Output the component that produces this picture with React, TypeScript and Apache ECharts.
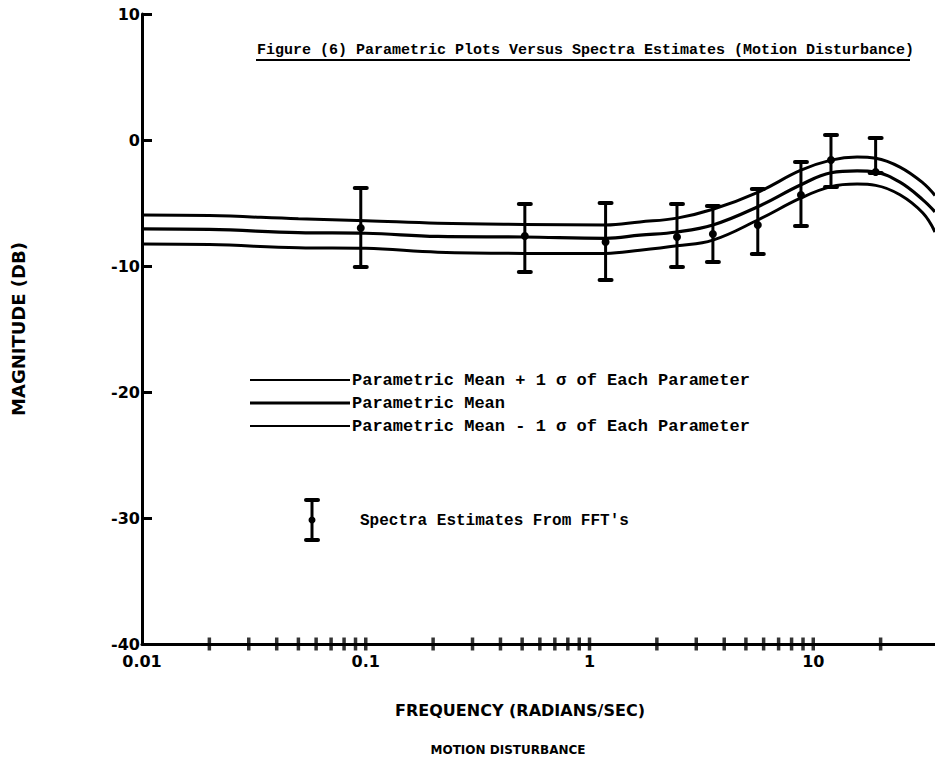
import React, { useEffect, useRef } from "react";
import * as echarts from "echarts";

// Parametric curves (frequency in rad/s, magnitude in dB)
const curveFreq = [0.01, 0.02, 0.05, 0.1, 0.21, 0.51, 1.18, 1.68, 2.46, 3.56, 5.65, 8.81, 12.0, 15.7, 19.0, 24.4, 30.9, 35];
const meanPlus = [-5.95, -6.0, -6.25, -6.4, -6.6, -6.7, -6.75, -6.5, -6.2, -5.5, -4.15, -2.4, -1.6, -1.35, -1.45, -2.15, -3.4, -4.4];
const meanCurve = [-7.06, -7.1, -7.35, -7.4, -7.65, -7.7, -7.8, -7.55, -7.3, -6.75, -5.3, -3.55, -2.6, -2.45, -2.55, -3.35, -4.75, -5.7];
const meanMinus = [-8.25, -8.3, -8.55, -8.6, -8.9, -9.0, -9.0, -8.75, -8.4, -7.95, -6.35, -4.6, -3.7, -3.5, -3.6, -4.35, -5.8, -7.3];

// Spectra estimates from FFT's
const fftFreq = [0.095, 0.514, 1.18, 2.46, 3.56, 5.65, 8.81, 12.0, 19.0];
const fftMean = [-6.98, -7.62, -8.1, -7.7, -7.46, -6.75, -4.37, -1.59, -2.54];
const fftLow = [-10.08, -10.48, -11.11, -10.08, -9.68, -9.05, -6.83, -3.73, -2.62];
const fftHigh = [-3.81, -5.08, -5.0, -5.08, -5.24, -3.89, -1.75, 0.4, 0.16];

// Axis tick labels
const yTickValues = [10, 0, -10, -20, -30, -40];
const yTickLabels = ["10", "0", "-10", "-20", "-30", "-40"];
const xLabelExponents = [-2, -1, 0, 1];
const xTickLabels = ["0.01", "0.1", "1", "10"];
const xMinorTicks = [
  0.02, 0.03, 0.04, 0.05, 0.06, 0.07, 0.08, 0.09, 0.1,
  0.2, 0.3, 0.4, 0.5, 0.6, 0.7, 0.8, 0.9, 1,
  2, 3, 4, 5, 6, 7, 8, 9, 10,
  20,
];

const legendLabels = [
  "Parametric Mean + 1 \u03c3 of Each Parameter",
  "Parametric Mean",
  "Parametric Mean - 1 \u03c3 of Each Parameter",
];
const fftLegendLabel = "Spectra Estimates From FFT's";
const titleText = "Figure (6) Parametric Plots Versus Spectra Estimates (Motion Disturbance)";

export default function App() {
  const ref = useRef<HTMLDivElement>(null);

  useEffect(() => {
    document.body.style.margin = "0";
    if (!ref.current) return;
    const chart = echarts.init(ref.current, undefined, { renderer: "svg" });

    const lineData = (vals: number[]) => curveFreq.map((f, i) => [f, vals[i]]);
    const errData = fftFreq.map((f, i) => [f, fftLow[i], fftHigh[i], fftMean[i]]);

    const mono = "'Liberation Mono', 'DejaVu Sans Mono', monospace";
    const sans = "'DejaVu Sans', sans-serif";

    const legendYs = [380, 403, 426];

    const option: any = {
      animation: false,
      backgroundColor: "#ffffff",
      grid: { left: 142, right: 0, top: 14, bottom: 127, containLabel: false },
      xAxis: {
        type: "log",
        logBase: 10,
        min: 0.01,
        max: 35,
        axisLine: { show: true, onZero: false, lineStyle: { color: "#000", width: 3 } },
        axisTick: { show: false },
        minorTick: { show: false },
        splitLine: { show: false },
        axisLabel: {
          margin: 9,
          color: "#000",
          fontFamily: sans,
          fontWeight: "bold",
          fontSize: 16,
          showMaxLabel: false,
          formatter: (v: number) => {
            const e = Math.log10(v);
            for (let i = 0; i < xLabelExponents.length; i++) {
              if (Math.abs(e - xLabelExponents[i]) < 1e-6) return xTickLabels[i];
            }
            return "";
          },
        },
      },
      yAxis: {
        type: "value",
        min: -40,
        max: 10,
        interval: 10,
        axisLine: { show: true, onZero: false, lineStyle: { color: "#000", width: 3 } },
        axisTick: { show: true, inside: true, length: 10, lineStyle: { color: "#000", width: 3 } },
        splitLine: { show: false },
        axisLabel: {
          margin: 2,
          color: "#000",
          fontFamily: sans,
          fontWeight: "bold",
          fontSize: 16,
          formatter: (v: number) => {
            const i = yTickValues.indexOf(Math.round(v));
            return i >= 0 ? yTickLabels[i] : "";
          },
        },
      },
      series: [
        {
          name: legendLabels[0],
          type: "line",
          data: lineData(meanPlus),
          smooth: 0.4,
          symbol: "none",
          lineStyle: { color: "#000", width: 3 },
          silent: true,
        },
        {
          name: legendLabels[1],
          type: "line",
          data: lineData(meanCurve),
          smooth: 0.4,
          symbol: "none",
          lineStyle: { color: "#000", width: 3.2 },
          silent: true,
        },
        {
          name: legendLabels[2],
          type: "line",
          data: lineData(meanMinus),
          smooth: 0.4,
          symbol: "none",
          lineStyle: { color: "#000", width: 3 },
          silent: true,
        },
        {
          name: fftLegendLabel,
          type: "custom",
          data: errData,
          encode: { x: 0, y: [1, 2, 3] },
          silent: true,
          renderItem: (params: any, api: any) => {
            const f = api.value(0);
            const lo = api.coord([f, api.value(1)]);
            const hi = api.coord([f, api.value(2)]);
            const mid = api.coord([f, api.value(3)]);
            const cap = 6;
            const st = { stroke: "#000", lineWidth: 3, lineCap: "round" };
            return {
              type: "group",
              children: [
                { type: "line", shape: { x1: lo[0], y1: lo[1], x2: hi[0], y2: hi[1] }, style: st },
                { type: "line", shape: { x1: lo[0] - cap, y1: lo[1], x2: lo[0] + cap, y2: lo[1] }, style: { ...st, lineWidth: 4 } },
                { type: "line", shape: { x1: hi[0] - cap, y1: hi[1], x2: hi[0] + cap, y2: hi[1] }, style: { ...st, lineWidth: 4 } },
                { type: "circle", shape: { cx: mid[0], cy: mid[1], r: 4 }, style: { fill: "#000" } },
              ],
            };
          },
        },
        {
          name: "ticks",
          type: "scatter",
          data: xMinorTicks.map((f) => [f, -40]),
          symbol: "rect",
          symbolSize: [3.5, 13],
          itemStyle: { color: "#000" },
          silent: true,
          clip: false,
        },
      ],
      graphic: [
        // title
        {
          type: "text",
          x: 257,
          y: 50,
          style: { text: titleText, font: `bold 15px ${mono}`, fill: "#000", verticalAlign: "middle" },
          silent: true,
        },
        {
          type: "line",
          shape: { x1: 256, y1: 60, x2: 910, y2: 60 },
          style: { stroke: "#000", lineWidth: 2 },
          silent: true,
        },
        // legend lines
        ...legendYs.map((y, i) => ({
          type: "line",
          shape: { x1: 250, y1: y, x2: 350, y2: y },
          style: { stroke: "#000", lineWidth: i === 1 ? 3 : 2 },
          silent: true,
        })),
        ...legendYs.map((y, i) => ({
          type: "text",
          x: 352,
          y: y,
          style: {
            text: legendLabels[i],
            font: `bold 17px ${mono}`,
            fill: "#000",
            verticalAlign: "middle",
            align: "left",
          },
          silent: true,
        })),
        // FFT legend symbol
        { type: "line", shape: { x1: 312, y1: 500, x2: 312, y2: 540 }, style: { stroke: "#000", lineWidth: 3 }, silent: true },
        { type: "line", shape: { x1: 306, y1: 500, x2: 318, y2: 500 }, style: { stroke: "#000", lineWidth: 4, lineCap: "round" }, silent: true },
        { type: "line", shape: { x1: 306, y1: 540, x2: 318, y2: 540 }, style: { stroke: "#000", lineWidth: 4, lineCap: "round" }, silent: true },
        { type: "circle", shape: { cx: 312, cy: 520, r: 3.5 }, style: { fill: "#000" }, silent: true },
        {
          type: "text",
          x: 360,
          y: 521,
          style: { text: fftLegendLabel, font: `bold 16px ${mono}`, fill: "#000", verticalAlign: "middle" },
          silent: true,
        },
        // axis names
        {
          type: "text",
          x: 18,
          y: 329,
          rotation: Math.PI / 2,
          style: {
            text: "MAGNITUDE (DB)",
            font: `bold 18px ${sans}`,
            fill: "#000",
            align: "center",
            verticalAlign: "middle",
          },
          silent: true,
        },
        {
          type: "text",
          x: 520,
          y: 710,
          style: {
            text: "FREQUENCY (RADIANS/SEC)",
            font: `bold 16px ${sans}`,
            fill: "#000",
            align: "center",
            verticalAlign: "middle",
          },
          silent: true,
        },
        {
          type: "text",
          x: 508,
          y: 750,
          style: {
            text: "MOTION DISTURBANCE",
            font: `bold 12px ${sans}`,
            fill: "#000",
            align: "center",
            verticalAlign: "middle",
          },
          silent: true,
        },
      ],
    };

    chart.setOption(option);
    return () => chart.dispose();
  }, []);

  return <div ref={ref} style={{ width: 935, height: 771 }} />;
}
